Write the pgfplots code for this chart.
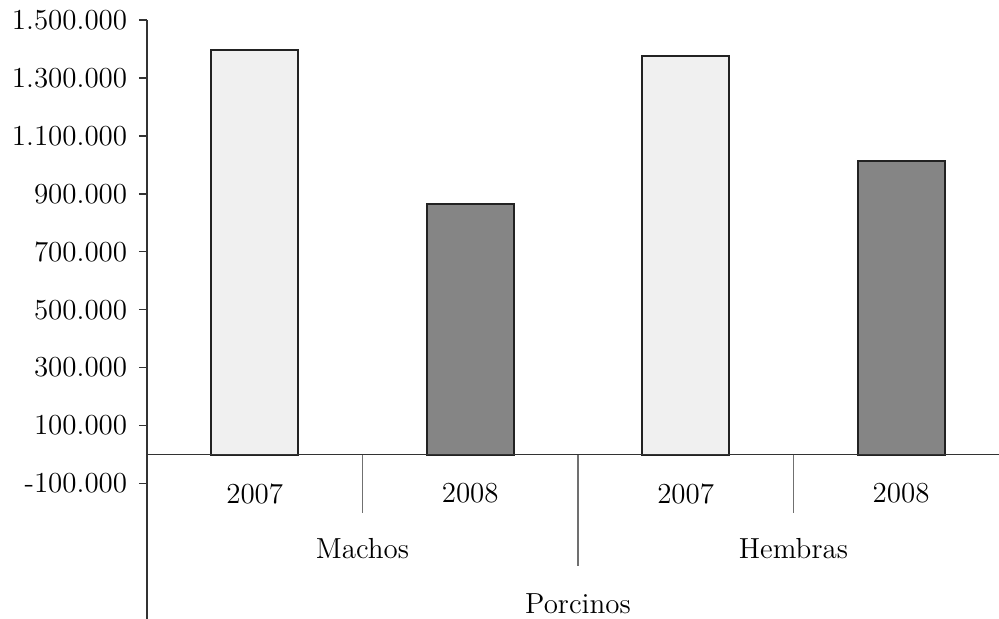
\documentclass[border=0pt]{standalone}
\usepackage{pgfplots}
\pgfplotsset{compat=1.18}
\definecolor{lightbar}{HTML}{F0F0F0}
\definecolor{darkbar}{HTML}{858585}
\definecolor{edge}{HTML}{222222}
\definecolor{axisgray}{HTML}{333333}
\definecolor{sepgray}{HTML}{707070}
\begin{document}
\begin{tikzpicture}[font=\fontsize{11.6}{13}\selectfont]
\useasboundingbox (-58.8pt,-54.2pt) rectangle (340.8pt,193.4pt);
\begin{axis}[
  at={(0,0)}, anchor=south west, scale only axis,
  width=340.8pt, height=185.4pt,
  xmin=-0.5, xmax=3.454, ymin=-100000, ymax=1500000,
  axis x line=none, axis y line*=left,
  axis line style={axisgray, line width=0.6pt, -},
  xtick=\empty, scaled y ticks=false,
  ytick={-100000,100000,300000,500000,700000,900000,1100000,1300000,1500000},
  yticklabels={-100.000,100.000,300.000,500.000,700.000,900.000,1.100.000,1.300.000,1.500.000},
  tick align=outside, major tick length=3.2pt,
  tick style={axisgray, line width=0.6pt},
  yticklabel style={font=\fontsize{11.6}{13}\selectfont, xshift=-1.2pt},
  clip=false,
  ybar, bar width=34.8pt, bar shift=0pt,
]
\addplot[fill=lightbar, draw=edge, line width=0.8pt] coordinates {(0,1395000) (2,1376000)};
\addplot[fill=darkbar, draw=edge, line width=0.8pt] coordinates {(1,865000) (3,1012000)};
\draw[axisgray, line width=0.6pt] (axis cs:-0.5,0) -- (axis cs:3.454,0);
\draw[axisgray, line width=0.6pt] (axis cs:-0.5,-100000) -- ++(0pt,-54.2pt);
\draw[sepgray, line width=0.6pt] (axis cs:0.5,0) -- ++(0pt,-23.2pt);
\draw[sepgray, line width=0.6pt] (axis cs:1.5,0) -- ++(0pt,-44.4pt);
\draw[sepgray, line width=0.6pt] (axis cs:2.5,0) -- ++(0pt,-23.2pt);
\node at (axis cs:0,0) [yshift=-15.6pt] {2007};
\node at (axis cs:1,0) [yshift=-15.6pt] {2008};
\node at (axis cs:2,0) [yshift=-15.6pt] {2007};
\node at (axis cs:3,0) [yshift=-15.6pt] {2008};
\node at (axis cs:0.5,0) [yshift=-37.6pt] {Machos};
\node at (axis cs:2.5,0) [yshift=-37.6pt] {Hembras};
\node at (axis cs:1.5,0) [yshift=-59.6pt] {Porcinos};
\end{axis}
\end{tikzpicture}
\end{document}
